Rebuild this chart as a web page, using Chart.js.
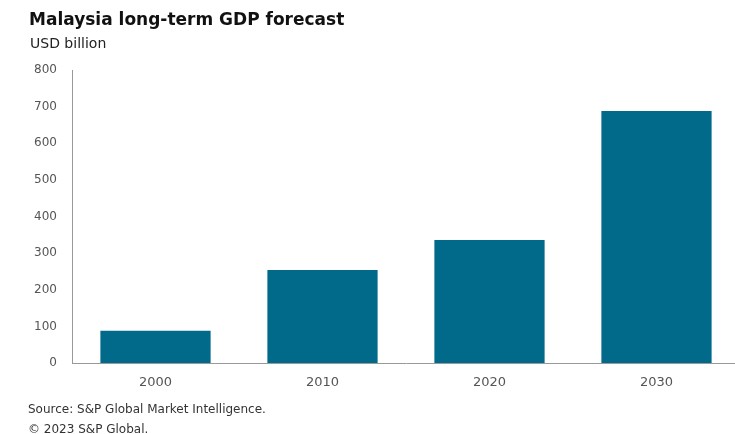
<!DOCTYPE html>
<html>
<head>
<meta charset="utf-8">
<script src="https://cdn.jsdelivr.net/npm/chart.js@4.4.0/dist/chart.umd.min.js"></script>
<style>
  html, body { margin: 0; padding: 0; background: #fff; overflow: hidden; width: 735px; height: 434px; }
  body { position: relative; font-family: "DejaVu Sans", sans-serif; }
  #title { position: absolute; left: 29px; top: 8px; font-size: 17px; font-weight: bold; color: #111; line-height: 22px; }
  #unit { position: absolute; left: 30px; top: 35px; font-size: 14px; color: #222; line-height: 16px; }
  #source { position: absolute; left: 28px; top: 399px; font-size: 12px; color: #333; line-height: 20px; }
  #chart { position: absolute; left: 0; top: 0; }
</style>
</head>
<body>
<canvas id="chart" width="742" height="434"></canvas>
<div id="title">Malaysia long-term GDP forecast</div>
<div id="unit">USD billion</div>
<div id="source">Source: S&amp;P Global Market Intelligence.<br>© 2023 S&amp;P Global.</div>
<script>
var years = ['2000', '2010', '2020', '2030'];
var gdp = [88, 254, 336, 688];
var yTicks = [0, 100, 200, 300, 400, 500, 600, 700, 800];

var ctx = document.getElementById('chart');

var chart = new Chart(ctx, {
    type: 'bar',
    data: {
        labels: years,
        datasets: [{
            label: 'GDP',
            data: gdp,
            backgroundColor: '#01698a',
            barPercentage: 0.66,
            categoryPercentage: 1
        }]
    },
    options: {
        responsive: false,
        animation: false,
        layout: { padding: { top: 70, left: 0, right: 2, bottom: 0 } },
        plugins: {
            legend: { display: false },
            tooltip: { enabled: false }
        },
        scales: {
            x: {
                grid: { display: false, drawTicks: false },
                border: { color: '#999', width: 1 },
                ticks: { color: '#555', font: { family: 'DejaVu Sans', size: 13 }, padding: 12 },
                afterFit: function(scale) { scale.height = 434 - 363; }
            },
            y: {
                min: 0,
                max: 800,
                grid: { display: false, drawTicks: false },
                border: { color: '#999', width: 1 },
                afterBuildTicks: function(scale) {
                    scale.ticks = yTicks.map(function(v) { return { value: v }; });
                },
                ticks: { color: '#555', font: { family: 'DejaVu Sans', size: 12 }, padding: 15 },
                afterFit: function(scale) { scale.width = 72; }
            }
        }
    }
});
</script>
</body>
</html>
